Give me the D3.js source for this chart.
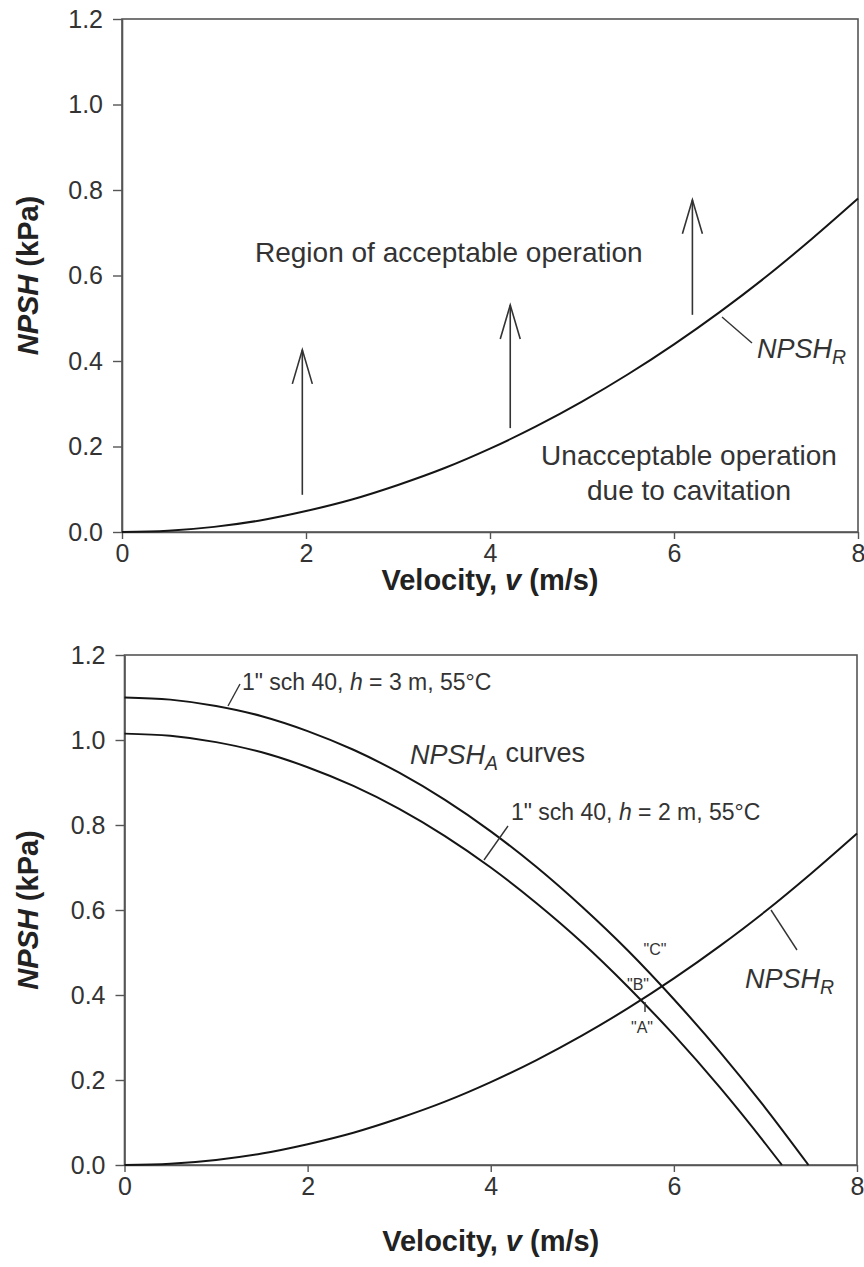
<!DOCTYPE html>
<html>
<head>
<meta charset="utf-8">
<script src="https://cdn.jsdelivr.net/npm/d3@7"></script>
<style>
  html, body { margin: 0; padding: 0; background: #fff; }
  svg { display: block; }
  text { font-family: "Liberation Sans", Arial, Helvetica, sans-serif; }
</style>
</head>
<body>
<svg id="chart" width="864" height="1267"></svg>
<script>
// ---- data ----
const velocity = [0, 0.5, 1, 1.5, 2, 2.5, 3, 3.5, 4, 4.5, 5, 5.5, 6, 6.5, 7, 7.5, 8];
const npshR    = [0, 0.003, 0.012, 0.027, 0.049, 0.076, 0.110, 0.149, 0.195, 0.247, 0.305, 0.369, 0.439, 0.515, 0.597, 0.686, 0.780];

const velocityA3 = [0, 0.5, 1, 1.5, 2, 2.5, 3, 3.5, 4, 4.5, 5, 5.5, 6, 6.5, 7, 7.47];
const npshA3     = [1.100, 1.095, 1.080, 1.056, 1.021, 0.977, 0.923, 0.859, 0.785, 0.701, 0.607, 0.504, 0.390, 0.267, 0.134, 0];

const velocityA2 = [0, 0.5, 1, 1.5, 2, 2.5, 3, 3.5, 4, 4.5, 5, 5.5, 6, 6.5, 7, 7.18];
const npshA2     = [1.015, 1.010, 0.995, 0.971, 0.936, 0.892, 0.838, 0.774, 0.700, 0.616, 0.523, 0.419, 0.306, 0.183, 0.050, 0];

const xTicks = [0, 2, 4, 6, 8];
const yTicks = [0, 0.2, 0.4, 0.6, 0.8, 1.0, 1.2];

const arrowV    = [1.96, 4.22, 6.2];
const arrowFrom = [0.087, 0.243, 0.508];
const arrowTo   = [0.426, 0.531, 0.777];

// ---- drawing ----
const svg = d3.select("#chart");
const FONT = '"Liberation Sans", Arial, Helvetica, sans-serif';
const AXIS_COLOR = "#555";
const TEXT_COLOR = "#333";
const CURVE_COLOR = "#151515";

function panel(left, right, top, bottom, titleY) {
  const g = svg.append("g");
  const x = d3.scaleLinear().domain([0, 8]).range([left, right]);
  const y = d3.scaleLinear().domain([0, 1.2]).range([bottom, top]);

  g.append("rect").attr("x", left).attr("y", top)
    .attr("width", right - left).attr("height", bottom - top)
    .attr("fill", "none").attr("stroke", AXIS_COLOR).attr("stroke-width", 1.6);

  const ya = g.append("g").attr("transform", `translate(${left},0)`)
    .call(d3.axisLeft(y).tickValues(yTicks).tickFormat(d3.format(".1f"))
      .tickSize(9).tickSizeOuter(0).tickPadding(10));
  const xa = g.append("g").attr("transform", `translate(0,${bottom})`)
    .call(d3.axisBottom(x).tickValues(xTicks).tickFormat(d3.format("d"))
      .tickSize(7).tickSizeOuter(0).tickPadding(5));
  [ya, xa].forEach(a => {
    a.select(".domain").attr("stroke", AXIS_COLOR).attr("stroke-width", 1.6);
    a.selectAll(".tick line").attr("stroke", AXIS_COLOR).attr("stroke-width", 1.4);
    a.selectAll(".tick text").attr("fill", TEXT_COLOR)
      .style("font-family", FONT).style("font-size", "25px");
  });

  const yt = g.append("text")
    .attr("transform", `translate(38,${(top + bottom) / 2}) rotate(-90)`)
    .attr("text-anchor", "middle")
    .attr("fill", "#222").style("font-size", "29px").style("font-weight", "bold");
  yt.append("tspan").style("font-style", "italic").text("NPSH");
  yt.append("tspan").text(" (kPa)");

  const xt = g.append("text")
    .attr("x", (left + right) / 2).attr("y", titleY)
    .attr("text-anchor", "middle")
    .attr("fill", "#222").style("font-size", "29px").style("font-weight", "bold");
  xt.append("tspan").text("Velocity, ");
  xt.append("tspan").style("font-style", "italic").text("v");
  xt.append("tspan").text(" (m/s)");

  return { g, x, y };
}

function curve(p, xs, ys) {
  const line = d3.line().x((d, i) => p.x(xs[i])).y(d => p.y(d)).curve(d3.curveMonotoneX);
  p.g.append("path").datum(ys).attr("d", line)
    .attr("fill", "none").attr("stroke", CURVE_COLOR).attr("stroke-width", 2);
}

function label(p, x, y, size, parts) {
  const t = p.g.append("text").attr("x", x).attr("y", y)
    .attr("fill", TEXT_COLOR).style("font-size", size + "px");
  parts.forEach(pt => {
    const s = t.append("tspan").text(pt.t);
    if (pt.i) s.style("font-style", "italic");
    if (pt.sub) s.attr("dy", "0.3em").style("font-size", (size * 0.72) + "px");
    if (pt.back) s.attr("dy", "-0.3em");
  });
  return t;
}

function leader(p, x1, y1, x2, y2) {
  p.g.append("line").attr("x1", x1).attr("y1", y1).attr("x2", x2).attr("y2", y2)
    .attr("stroke", "#333").attr("stroke-width", 1.4);
}

// ---------- top panel ----------
const topP = panel(122, 858, 19, 532, 590);
curve(topP, velocity, npshR);

arrowV.forEach((v, i) => {
  const xx = topP.x(v), y0 = topP.y(arrowFrom[i]), y1 = topP.y(arrowTo[i]);
  topP.g.append("line").attr("x1", xx).attr("x2", xx).attr("y1", y0).attr("y2", y1)
    .attr("stroke", "#333").attr("stroke-width", 1.6);
  topP.g.append("path")
    .attr("d", `M${xx - 10},${y1 + 34}L${xx},${y1}L${xx + 10},${y1 + 34}`)
    .attr("fill", "none").attr("stroke", "#333").attr("stroke-width", 1.6);
});

label(topP, 255, 262, 28, [{ t: "Region of acceptable operation" }]);
label(topP, 689, 465, 28, [{ t: "Unacceptable operation" }]).attr("text-anchor", "middle");
label(topP, 689, 500, 28, [{ t: "due to cavitation" }]).attr("text-anchor", "middle");
leader(topP, 722, 317, 752, 343);
label(topP, 757, 358, 27, [{ t: "NPSH", i: true }, { t: "R", i: true, sub: true }]);

// ---------- bottom panel ----------
const botP = panel(124.5, 857, 655, 1165, 1251);
curve(botP, velocity, npshR);
curve(botP, velocityA3, npshA3);
curve(botP, velocityA2, npshA2);

leader(botP, 228, 706, 240, 684);
label(botP, 242, 690, 23, [{ t: "1\" sch 40, " }, { t: "h", i: true }, { t: " = 3 m, 55°C" }]);
label(botP, 410, 764, 27, [{ t: "NPSH", i: true }, { t: "A", i: true, sub: true }, { t: " curves", back: true }]);
leader(botP, 484, 860, 508, 826);
label(botP, 511, 820, 23, [{ t: "1\" sch 40, " }, { t: "h", i: true }, { t: " = 2 m, 55°C" }]);

label(botP, 655, 955, 16, [{ t: "\"C\"" }]).attr("text-anchor", "middle");
label(botP, 638, 990, 16, [{ t: "\"B\"" }]).attr("text-anchor", "middle");
label(botP, 642, 1033, 16, [{ t: "\"A\"" }]).attr("text-anchor", "middle");
leader(botP, 645, 1002, 645, 1012);

leader(botP, 771, 910, 797, 950);
label(botP, 745, 988, 27, [{ t: "NPSH", i: true }, { t: "R", i: true, sub: true }]);
</script>
</body>
</html>
